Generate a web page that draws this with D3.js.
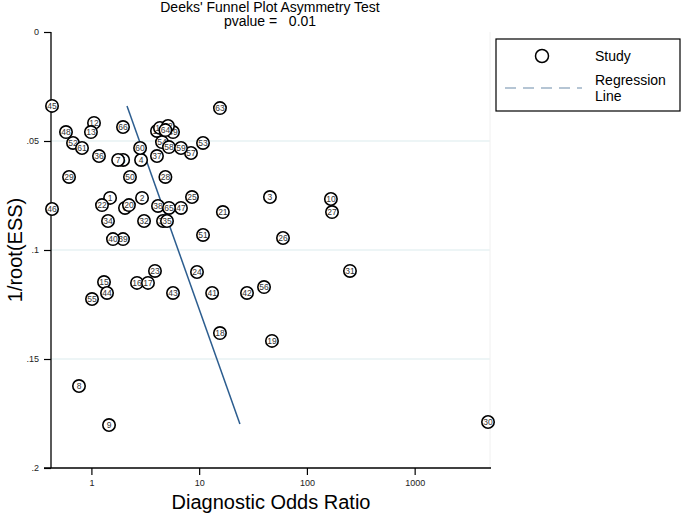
<!DOCTYPE html>
<html><head><meta charset="utf-8">
<script src="https://cdn.jsdelivr.net/npm/d3@7"></script>
<style>body{margin:0;background:#fff}svg{display:block;font-family:Arial,"Liberation Sans",sans-serif}</style>
</head><body><svg id="c" width="685" height="514"></svg>
<script>
const studyIds = d3.range(1, 67);
const dorValues = [1.49,2.95,45.4,2.89,1.97,2.05,1.77,0.767,1.457,167,
  4.06,1.057,0.99,4.33,1.309,2.65,3.35,15.6,47.4,2.23,
  16.6,1.254,3.89,9.55,8.58,60.0,171,4.86,0.62,4795,
  251,3.08,4.62,1.426,5.03,1.176,4.06,4.15,1.965,1.586,
  13.2,27.8,5.72,1.396,0.431,0.431,6.78,0.581,5.72,2.28,
  10.86,0.675,10.86,4.52,1.013,40.0,8.40,5.25,6.78,2.83,
  0.818,5.14,15.6,4.86,5.25,1.965];
const invRootEss = [0.0761,0.0761,0.0757,0.0587,0.0587,0.0807,0.0587,0.1624,0.1803,0.0766,
  0.0454,0.0417,0.0459,0.0440,0.1147,0.1151,0.1151,0.1381,0.1417,0.0794,
  0.0826,0.0794,0.1096,0.1101,0.0757,0.0945,0.0826,0.0665,0.0665,0.1789,
  0.1096,0.0867,0.0867,0.0867,0.0867,0.0569,0.0569,0.0798,0.0950,0.0950,
  0.1197,0.1197,0.1197,0.1197,0.0339,0.0812,0.0807,0.0459,0.0459,0.0665,
  0.0931,0.0509,0.0509,0.0505,0.1225,0.1170,0.0555,0.0528,0.0532,0.0532,
  0.0532,0.0431,0.0349,0.0450,0.0807,0.0436];
const regDor = [2.14, 23.9];
const regY = [0.0339, 0.1798];
const xTicks = [1, 10, 100, 1000];
const xTickLabels = ["1", "10", "100", "1000"];
const yTicks = [0, 0.05, 0.1, 0.15, 0.2];
const yTickLabels = ["0", ".05", ".1", ".15", ".2"];
const yGrid = [0.05, 0.1, 0.15];
const titleLines = ["Deeks' Funnel Plot Asymmetry Test", "pvalue =   0.01"];

const svg = d3.select("#c");
const L = 51, R = 490, T = 32, B = 468;
const x = d3.scaleLog().domain([0.4217, 5003]).range([L, R]);
const y = d3.scaleLinear().domain([0, 0.2]).range([T, B]);

// gridlines
svg.append("g").selectAll("line").data(yGrid).join("line")
  .attr("x1", L).attr("x2", R).attr("y1", d => y(d)).attr("y2", d => y(d))
  .attr("stroke", "#dbecee").attr("stroke-width", 1.2);
// right faint border
svg.append("line").attr("x1", R).attr("x2", R).attr("y1", T).attr("y2", B)
  .attr("stroke", "#f0f0f0");

// axes
const yAxis = d3.axisLeft(y).tickValues(yTicks).tickFormat((d, i) => yTickLabels[i]).tickSize(7).tickPadding(5);
const gy = svg.append("g").attr("transform", `translate(${L},0)`).call(yAxis);
gy.select(".domain").attr("stroke", "#000").attr("stroke-width", 1.3).attr("d", `M0,${T}V${B}`);
gy.selectAll(".tick line").attr("stroke", "#000").attr("stroke-width", 1.2);
gy.selectAll(".tick text").attr("font-size", 9).attr("fill", "#222").attr("font-family", "Arial");

const xAxis = d3.axisBottom(x).tickValues(xTicks).tickFormat((d, i) => xTickLabels[i]).tickSize(7).tickPadding(5);
const gx = svg.append("g").attr("transform", `translate(0,${B})`).call(xAxis);
gx.select(".domain").attr("stroke", "#000").attr("stroke-width", 1.3).attr("d", `M${L - 7},0H${R + 1}`);
gx.selectAll(".tick line").attr("stroke", "#000").attr("stroke-width", 1.2);
gx.selectAll(".tick text").attr("font-size", 9).attr("fill", "#222").attr("font-family", "Arial");

// regression line
const reg = regDor.map((d, i) => [d, regY[i]]);
svg.append("path").attr("d", d3.line().x(d => x(d[0])).y(d => y(d[1]))(reg))
  .attr("stroke", "#2c5d8f").attr("stroke-width", 1.5).attr("fill", "none");

// points
const pts = studyIds.map((id, i) => ({id, dor: dorValues[i], v: invRootEss[i]}));
const pg = svg.append("g").selectAll("g").data(pts).join("g")
  .attr("transform", d => `translate(${x(d.dor)},${y(d.v)})`);
pg.append("circle").attr("r", 6.2).attr("fill", "#fff").attr("stroke", "#000").attr("stroke-width", 1.6);
pg.append("text").text(d => d.id).attr("text-anchor", "middle").attr("dy", "0.35em")
  .attr("font-size", 8.5).attr("fill", "#333").attr("font-family", "Arial");

// titles
svg.append("g").selectAll("text").data(titleLines).join("text")
  .attr("x", 270).attr("y", (d, i) => 12 + i * 14).attr("text-anchor", "middle")
  .attr("font-size", 14).attr("fill", "#000").style("white-space", "pre").text(d => d);

svg.append("text").attr("x", 271).attr("y", 509).attr("text-anchor", "middle")
  .attr("font-size", 20).attr("fill", "#000").text("Diagnostic Odds Ratio");
svg.append("text").attr("transform", "translate(22,250) rotate(-90)").attr("text-anchor", "middle")
  .attr("font-size", 20).attr("fill", "#000").text("1/root(ESS)");

// legend
const lg = svg.append("g");
lg.append("rect").attr("x", 496).attr("y", 39).attr("width", 184).attr("height", 72)
  .attr("fill", "#fff").attr("stroke", "#000").attr("stroke-width", 1.2);
lg.append("circle").attr("cx", 542).attr("cy", 56).attr("r", 6.5).attr("fill", "#fff").attr("stroke", "#000").attr("stroke-width", 1.5);
lg.append("text").attr("x", 595).attr("y", 61).attr("font-size", 14).text("Study");
lg.append("line").attr("x1", 505).attr("x2", 582).attr("y1", 88).attr("y2", 88)
  .attr("stroke", "#9db2c6").attr("stroke-width", 1.5).attr("stroke-dasharray", "11,7");
lg.append("text").attr("x", 595).attr("y", 85).attr("font-size", 14).text("Regression");
lg.append("text").attr("x", 595).attr("y", 101).attr("font-size", 14).text("Line");
</script></body></html>
